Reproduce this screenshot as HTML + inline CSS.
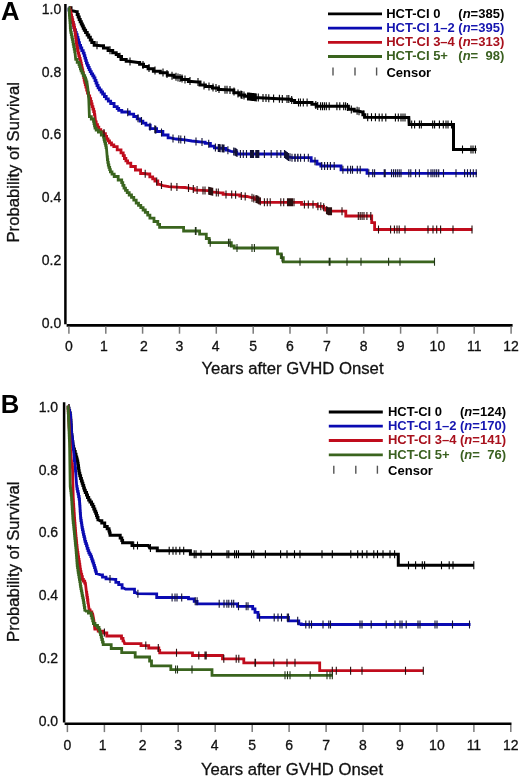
<!DOCTYPE html>
<html><head><meta charset="utf-8"><style>
html,body{margin:0;padding:0;background:#fff;}
body{width:520px;height:777px;overflow:hidden;}
svg{display:block;filter:blur(0.4px);}
text{font-family:"Liberation Sans",sans-serif;}
.tl{font-size:14px;fill:#111;stroke:#111;stroke-width:0.3px;}
.at{font-size:16.7px;fill:#111;stroke:#111;stroke-width:0.3px;}
.lg{font-size:13px;font-weight:bold;}
.pl{font-size:25.7px;font-weight:bold;fill:#000;}
</style></head><body>
<svg width="520" height="777" viewBox="0 0 520 777">
<rect width="520" height="777" fill="#fff"/>
<text x="0.9" y="19.6" class="pl">A</text>
<text x="0.8" y="412.8" class="pl">B</text>
<line x1="65.4" y1="4" x2="65.4" y2="324.3" stroke="#000" stroke-width="2.5"/>
<line x1="66.6" y1="325.4" x2="512.6" y2="325.4" stroke="#000" stroke-width="2.6"/>
<line x1="68.9" y1="326.59999999999997" x2="68.9" y2="333.7" stroke="#7a7a7a" stroke-width="1.5"/>
<text x="68.9" y="351.2" text-anchor="middle" class="tl">0</text>
<line x1="105.8" y1="326.59999999999997" x2="105.8" y2="333.7" stroke="#7a7a7a" stroke-width="1.5"/>
<text x="104.0" y="351.2" text-anchor="middle" class="tl">1</text>
<line x1="142.6" y1="326.59999999999997" x2="142.6" y2="333.7" stroke="#7a7a7a" stroke-width="1.5"/>
<text x="144.0" y="351.2" text-anchor="middle" class="tl">2</text>
<line x1="179.5" y1="326.59999999999997" x2="179.5" y2="333.7" stroke="#7a7a7a" stroke-width="1.5"/>
<text x="179.5" y="351.2" text-anchor="middle" class="tl">3</text>
<line x1="216.3" y1="326.59999999999997" x2="216.3" y2="333.7" stroke="#7a7a7a" stroke-width="1.5"/>
<text x="215.7" y="351.2" text-anchor="middle" class="tl">4</text>
<line x1="253.2" y1="326.59999999999997" x2="253.2" y2="333.7" stroke="#7a7a7a" stroke-width="1.5"/>
<text x="253.2" y="351.2" text-anchor="middle" class="tl">5</text>
<line x1="290.0" y1="326.59999999999997" x2="290.0" y2="333.7" stroke="#7a7a7a" stroke-width="1.5"/>
<text x="290.0" y="351.2" text-anchor="middle" class="tl">6</text>
<line x1="326.9" y1="326.59999999999997" x2="326.9" y2="333.7" stroke="#7a7a7a" stroke-width="1.5"/>
<text x="326.9" y="351.2" text-anchor="middle" class="tl">7</text>
<line x1="363.7" y1="326.59999999999997" x2="363.7" y2="333.7" stroke="#7a7a7a" stroke-width="1.5"/>
<text x="363.7" y="351.2" text-anchor="middle" class="tl">8</text>
<line x1="400.6" y1="326.59999999999997" x2="400.6" y2="333.7" stroke="#7a7a7a" stroke-width="1.5"/>
<text x="400.6" y="351.2" text-anchor="middle" class="tl">9</text>
<line x1="437.4" y1="326.59999999999997" x2="437.4" y2="333.7" stroke="#7a7a7a" stroke-width="1.5"/>
<text x="437.4" y="351.2" text-anchor="middle" class="tl">10</text>
<line x1="474.2" y1="326.59999999999997" x2="474.2" y2="333.7" stroke="#7a7a7a" stroke-width="1.5"/>
<text x="474.2" y="351.2" text-anchor="middle" class="tl">11</text>
<line x1="511.1" y1="326.59999999999997" x2="511.1" y2="333.7" stroke="#7a7a7a" stroke-width="1.5"/>
<text x="511.1" y="351.2" text-anchor="middle" class="tl">12</text>
<text x="61.2" y="13.9" text-anchor="end" class="tl">1.0</text>
<text x="61.2" y="76.7" text-anchor="end" class="tl">0.8</text>
<text x="61.2" y="139.4" text-anchor="end" class="tl">0.6</text>
<text x="61.2" y="202.2" text-anchor="end" class="tl">0.4</text>
<text x="61.2" y="264.9" text-anchor="end" class="tl">0.2</text>
<text x="61.2" y="327.7" text-anchor="end" class="tl">0.0</text>
<path d="M68.7,7.7 L71.0,7.7 L71.0,11.0 L73.3,11.0 L76.7,11.7 L77.2,11.7 L77.2,14.4 L78.2,14.4 L78.2,17.1 L78.7,17.1 L79.2,17.1 L79.2,19.4 L80.2,19.4 L80.2,21.7 L81.3,21.7 L81.3,24.0 L81.8,24.0 L82.3,24.0 L82.3,26.1 L83.3,26.1 L83.3,28.2 L84.3,28.2 L84.3,30.3 L84.8,30.3 L85.6,30.3 L85.6,32.6 L87.2,32.6 L87.2,34.9 L88.7,34.9 L88.7,37.2 L89.5,37.2 L90.3,37.2 L90.3,39.9 L91.8,39.9 L91.8,42.6 L92.6,42.6 L94.2,42.6 L94.2,45.2 L95.7,45.2 L101.2,45.8 L103.5,45.8 L103.5,48.0 L105.8,48.0 L108.1,48.0 L108.1,50.4 L110.4,50.4 L112.7,50.4 L112.7,52.7 L115.0,52.7 L116.2,52.7 L116.2,54.6 L118.4,54.6 L118.4,56.5 L119.6,56.5 L121.5,56.5 L121.5,59.6 L123.5,59.6 L126.2,59.6 L126.2,61.2 L128.8,61.2 L138.0,62.4 L139.6,62.4 L139.6,64.2 L141.2,64.2 L143.5,64.2 L143.5,66.5 L145.8,66.5 L148.1,66.5 L148.1,68.8 L150.4,68.8 L153.4,68.8 L153.4,71.2 L156.5,71.2 L160.3,71.2 L160.3,72.7 L164.2,72.7 L167.3,72.7 L167.3,75.3 L170.4,75.3 L174.1,75.3 L174.1,77.3 L177.7,77.3 L181.6,77.3 L181.6,79.6 L185.4,79.6 L188.4,79.6 L188.4,81.6 L191.5,81.6 L197.7,81.9 L200.0,81.9 L200.0,85.0 L202.3,85.0 L205.4,85.0 L205.4,86.5 L208.5,86.5 L212.3,86.5 L212.3,88.0 L216.2,88.0 L218.5,88.0 L218.5,89.6 L220.8,89.6 L231.5,90.0 L233.8,90.0 L233.8,92.7 L236.2,92.7 L239.2,92.7 L239.2,95.0 L242.3,95.0 L244.7,95.0 L244.7,96.3 L247.0,96.3 L253.1,96.3 L253.1,97.7 L259.2,97.7 L278.5,98.7 L290.0,99.2 L291.4,99.2 L291.4,100.5 L292.7,100.5 L294.6,100.5 L294.6,102.4 L296.5,102.4 L310.0,102.4 L311.9,102.4 L311.9,104.3 L313.8,104.3 L316.2,104.3 L316.2,106.3 L318.7,106.3 L346.5,106.3 L348.4,106.3 L348.4,109.2 L350.4,109.2 L354.2,109.2 L354.2,111.0 L358.0,111.0 L361.9,112.0 L362.9,112.0 L362.9,114.7 L364.8,114.7 L364.8,117.3 L365.8,117.3 L408.8,117.5 L409.2,124.4 L453.5,124.4 L453.5,149.6 L476.5,149.6" fill="none" stroke="#000000" stroke-width="3.0" stroke-linejoin="miter"/>
<path d="M68.7,7.7 L69.0,7.7 L69.0,10.2 L69.7,10.2 L69.7,12.6 L70.3,12.6 L70.3,15.1 L71.0,15.1 L71.0,17.5 L71.7,17.5 L71.7,20.0 L72.0,20.0 L72.4,20.0 L72.4,22.5 L73.1,22.5 L73.1,25.0 L73.9,25.0 L73.9,27.5 L74.6,27.5 L74.6,30.0 L75.0,30.0 L75.5,30.0 L75.5,32.3 L76.3,32.3 L76.3,34.6 L76.8,34.6 L77.2,34.6 L77.2,37.3 L78.0,37.3 L78.0,40.0 L78.7,40.0 L78.7,42.7 L79.5,42.7 L79.5,45.4 L79.9,45.4 L80.6,45.4 L80.6,48.0 L81.8,48.0 L81.8,50.6 L83.2,50.6 L83.2,53.2 L83.8,53.2 L84.2,53.2 L84.2,55.7 L84.9,55.7 L84.9,58.2 L85.7,58.2 L85.7,60.7 L86.4,60.7 L86.4,63.2 L86.8,63.2 L87.3,63.2 L87.3,65.3 L88.3,65.3 L88.3,67.5 L89.2,67.5 L89.2,69.6 L90.2,69.6 L90.2,71.7 L90.7,71.7 L91.3,71.7 L91.3,73.8 L92.7,73.8 L92.7,75.8 L93.9,75.8 L93.9,77.9 L94.6,77.9 L95.0,77.9 L95.0,80.5 L96.0,80.5 L96.0,83.0 L96.4,83.0 L97.0,83.0 L97.0,85.5 L98.1,85.5 L98.1,87.9 L98.7,87.9 L99.5,87.9 L99.5,89.9 L101.1,89.9 L101.1,92.0 L102.6,92.0 L102.6,94.0 L103.4,94.0 L104.4,94.0 L104.4,96.5 L106.2,96.5 L106.2,98.9 L107.2,98.9 L108.3,98.9 L108.3,101.2 L110.7,101.2 L110.7,103.5 L111.8,103.5 L114.1,103.5 L114.1,106.6 L116.4,106.6 L117.2,106.6 L117.2,108.5 L118.7,108.5 L118.7,110.4 L119.5,110.4 L121.8,110.4 L121.8,112.0 L124.0,112.0 L127.3,112.0 L129.4,112.0 L129.4,114.2 L133.7,114.2 L133.7,116.5 L135.8,116.5 L137.2,116.5 L137.2,118.8 L140.1,118.8 L140.1,121.1 L141.5,121.1 L142.9,121.1 L142.9,123.2 L145.9,123.2 L145.9,125.2 L147.3,125.2 L150.2,125.2 L150.2,128.6 L153.1,128.6 L156.6,128.6 L156.6,131.5 L160.0,131.5 L162.9,131.5 L162.9,135.0 L165.8,135.0 L168.1,135.0 L168.1,137.9 L170.4,137.9 L176.1,139.0 L185.0,139.8 L191.9,141.0 L202.3,142.1 L205.2,142.1 L205.2,143.3 L208.1,143.3 L210.4,143.3 L210.4,146.1 L212.7,146.1 L214.4,146.1 L214.4,147.9 L216.1,147.9 L224.2,148.5 L225.9,148.5 L225.9,150.2 L227.7,150.2 L231.1,151.3 L235.7,151.9 L236.8,151.9 L236.8,154.0 L238.0,154.0 L284.6,154.0 L286.6,154.0 L286.6,157.0 L288.5,157.0 L292.0,157.7 L311.2,157.7 L311.2,161.2 L317.0,161.2 L317.0,164.0 L320.8,164.0 L320.8,166.0 L341.0,166.0 L341.0,169.8 L367.0,169.8 L367.0,173.3 L477.0,173.3" fill="none" stroke="#0a0ab2" stroke-width="2.8" stroke-linejoin="miter"/>
<path d="M69.5,7.7 L69.8,7.7 L69.8,10.2 L70.4,10.2 L70.4,12.6 L71.0,12.6 L71.0,15.1 L71.6,15.1 L71.6,17.5 L72.2,17.5 L72.2,20.0 L72.5,20.0 L72.8,20.0 L72.8,22.5 L73.4,22.5 L73.4,25.0 L74.0,25.0 L74.0,27.5 L74.6,27.5 L74.6,30.0 L74.9,30.0 L75.1,30.0 L75.1,32.6 L75.4,32.6 L75.4,35.1 L75.7,35.1 L75.7,37.7 L76.0,37.7 L76.0,40.3 L76.3,40.3 L76.3,42.8 L76.6,42.8 L76.6,45.4 L76.8,45.4 L77.1,45.4 L77.1,48.0 L77.6,48.0 L77.6,50.6 L78.1,50.6 L78.1,53.2 L78.4,53.2 L78.8,53.2 L78.8,55.8 L79.5,55.8 L79.5,58.4 L80.2,58.4 L80.2,61.0 L80.6,61.0 L80.8,61.0 L80.8,63.2 L81.3,63.2 L81.3,65.5 L81.8,65.5 L81.8,67.8 L82.3,67.8 L82.3,70.0 L82.6,70.0 L82.8,70.0 L82.8,72.5 L83.3,72.5 L83.3,75.0 L83.7,75.0 L83.7,77.5 L84.2,77.5 L84.2,80.0 L84.4,80.0 L84.7,80.0 L84.7,82.3 L85.3,82.3 L85.3,84.7 L85.9,84.7 L85.9,87.0 L86.2,87.0 L86.7,87.0 L86.7,90.0 L87.5,90.0 L87.5,93.0 L88.0,93.0 L88.6,93.0 L88.6,95.8 L89.7,95.8 L89.7,98.7 L90.3,98.7 L90.7,98.7 L90.7,101.3 L91.4,101.3 L91.4,104.0 L92.1,104.0 L92.1,106.6 L92.5,106.6 L92.9,106.6 L92.9,109.2 L93.7,109.2 L93.7,111.7 L94.4,111.7 L94.4,114.3 L94.8,114.3 L95.6,122.0 L96.2,122.0 L96.2,124.6 L97.5,124.6 L97.5,127.1 L98.8,127.1 L98.8,129.7 L99.4,129.7 L100.8,129.7 L100.8,131.6 L103.5,131.6 L103.5,133.6 L104.8,133.6 L105.4,133.6 L105.4,136.3 L106.6,136.3 L106.6,139.0 L107.2,139.0 L108.0,139.0 L108.0,140.9 L109.5,140.9 L109.5,142.9 L110.3,142.9 L111.5,142.9 L111.5,144.8 L113.8,144.8 L113.8,146.7 L114.9,146.7 L117.2,146.7 L117.2,149.8 L119.5,149.8 L121.0,149.8 L121.0,152.9 L122.6,152.9 L123.2,152.9 L123.2,155.7 L124.4,155.7 L124.4,158.5 L125.0,158.5 L125.9,158.5 L125.9,160.8 L127.6,160.8 L127.6,163.1 L128.5,163.1 L130.8,163.1 L130.8,166.5 L133.1,166.5 L135.4,166.5 L135.4,170.0 L137.7,170.0 L140.6,170.0 L140.6,173.5 L143.5,173.5 L148.1,174.0 L149.8,174.0 L149.8,176.9 L151.5,176.9 L152.7,176.9 L152.7,178.9 L154.9,178.9 L154.9,181.0 L156.1,181.0 L157.8,181.0 L157.8,184.4 L159.6,184.4 L163.1,185.6 L168.8,186.7 L180.0,187.3 L185.0,187.5 L191.9,188.7 L194.2,188.7 L194.2,190.1 L196.5,190.1 L208.1,190.6 L210.9,190.6 L210.9,192.1 L213.8,192.1 L220.8,192.9 L223.1,192.9 L223.1,194.4 L225.4,194.4 L238.1,194.8 L239.8,194.8 L239.8,196.1 L241.5,196.1 L246.9,196.5 L251.5,197.7 L254.4,197.7 L254.4,199.4 L257.3,199.4 L259.6,199.4 L259.6,202.3 L261.9,202.3 L301.5,202.3 L301.5,204.4 L317.0,204.4 L317.0,206.3 L322.7,206.3 L323.6,206.3 L323.6,208.2 L325.6,208.2 L325.6,210.2 L326.5,210.2 L328.5,211.2 L345.8,211.2 L345.8,216.0 L371.7,216.0 L371.7,222.7 L374.6,222.7 L374.6,229.5 L472.3,229.5" fill="none" stroke="#c00c1c" stroke-width="2.8" stroke-linejoin="miter"/>
<path d="M69.0,7.5 L69.1,7.5 L69.1,10.0 L69.3,10.0 L69.3,12.5 L69.4,12.5 L69.4,15.0 L69.6,15.0 L69.6,17.5 L69.8,17.5 L69.8,20.0 L70.0,20.0 L70.0,22.5 L70.2,22.5 L70.2,25.0 L70.3,25.0 L70.3,27.5 L70.5,27.5 L70.5,30.0 L70.6,30.0 L70.8,30.0 L70.8,32.3 L71.3,32.3 L71.3,34.6 L71.8,34.6 L71.8,37.0 L72.3,37.0 L72.3,39.3 L72.8,39.3 L72.8,41.6 L73.0,41.6 L73.2,41.6 L73.2,44.1 L73.7,44.1 L73.7,46.6 L74.2,46.6 L74.2,49.1 L74.7,49.1 L74.7,51.6 L74.9,51.6 L75.7,59.3 L77.2,59.3 L77.2,62.4 L78.7,62.4 L79.0,62.4 L79.0,64.5 L79.7,64.5 L79.7,66.7 L80.4,66.7 L80.4,68.8 L81.1,68.8 L81.1,70.9 L81.4,70.9 L82.1,70.9 L82.1,73.2 L83.3,73.2 L83.3,75.6 L84.7,75.6 L84.7,77.9 L85.3,77.9 L85.6,77.9 L85.6,79.9 L86.2,79.9 L86.2,82.0 L86.9,82.0 L86.9,84.0 L87.2,84.0 L88.0,90.0 L88.8,100.0 L89.4,116.6 L91.3,116.6 L91.3,119.0 L93.3,119.0 L93.5,119.0 L93.5,121.3 L94.0,121.3 L94.0,123.6 L94.5,123.6 L94.5,125.9 L95.0,125.9 L95.0,128.2 L95.2,128.2 L96.2,128.2 L96.2,130.1 L98.4,130.1 L98.4,132.0 L99.4,132.0 L101.3,132.0 L101.3,135.2 L103.3,135.2 L103.5,135.2 L103.5,137.2 L104.0,137.2 L104.0,139.3 L104.5,139.3 L104.5,141.3 L104.8,141.3 L105.1,141.3 L105.1,143.4 L105.6,143.4 L105.6,145.4 L106.1,145.4 L106.1,147.5 L106.4,147.5 L107.2,157.0 L107.4,157.0 L107.4,159.7 L107.8,159.7 L107.8,162.3 L108.3,162.3 L108.3,165.0 L108.5,165.0 L108.9,165.0 L108.9,167.3 L109.7,167.3 L109.7,169.6 L110.4,169.6 L110.4,171.9 L110.8,171.9 L112.0,171.9 L112.0,174.2 L114.2,174.2 L114.2,176.5 L115.4,176.5 L118.2,176.5 L118.2,180.0 L121.1,180.0 L121.7,180.0 L121.7,182.7 L122.8,182.7 L122.8,185.4 L124.0,185.4 L124.0,188.1 L124.6,188.1 L125.5,188.1 L125.5,190.4 L127.2,190.4 L127.2,192.7 L128.1,192.7 L129.2,192.7 L129.2,195.0 L131.5,195.0 L131.5,197.3 L132.7,197.3 L133.8,197.3 L133.8,200.2 L136.2,200.2 L136.2,203.1 L137.3,203.1 L138.5,203.1 L138.5,205.4 L140.8,205.4 L140.8,207.7 L141.9,207.7 L143.1,207.7 L143.1,210.0 L145.3,210.0 L145.3,212.3 L146.5,212.3 L147.7,212.3 L147.7,215.2 L149.9,215.2 L149.9,218.1 L151.1,218.1 L154.0,218.1 L154.0,221.5 L156.9,221.5 L157.8,221.5 L157.8,224.4 L159.6,224.4 L159.6,227.3 L160.5,227.3 L183.6,227.3 L183.6,231.0 L199.6,231.0 L199.6,234.2 L206.3,234.2 L206.3,238.5 L209.2,238.5 L209.2,242.7 L231.3,242.7 L231.3,246.0 L234.2,246.0 L234.2,248.0 L277.5,248.0 L277.5,253.8 L281.3,253.8 L281.3,257.7 L283.3,257.7 L283.3,261.8 L434.5,261.8" fill="none" stroke="#3a641e" stroke-width="2.8" stroke-linejoin="miter"/>
<path d="M97.0,41.3v8M110.0,46.2v8M120.0,52.8v8M130.0,57.4v8M143.0,61.1v8M149.0,64.1v8M155.0,66.6v8M163.0,68.5v8M167.0,69.9v8M172.0,71.7v8M176.0,72.8v8M178.0,73.4v8M180.0,74.0v8M182.0,74.6v8M185.0,75.5v8M190.0,77.1v8M198.0,78.1v8M204.0,81.4v8M209.0,82.6v8M213.0,83.4v8M216.0,84.0v8M219.0,85.0v8M225.0,85.8v8M227.0,85.8v8M230.0,85.9v8M234.0,87.4v8M238.0,89.4v8M241.0,90.5v8M242.0,90.9v8M244.0,91.5v8M247.5,92.4v8M248.4,92.5v8M249.3,92.6v8M250.2,92.7v8M251.1,92.8v8M252.0,92.9v8M252.9,93.0v8M253.8,93.1v8M254.7,93.2v8M255.6,93.3v8M256.3,93.4v8M258.3,93.6v8M263.0,93.9v8M266.0,94.1v8M268.8,94.2v8M273.6,94.4v8M279.4,94.7v8M282.3,94.9v8M287.0,95.1v8M288.8,95.1v8M291.7,96.0v8M298.5,98.4v8M300.4,98.4v8M303.3,98.4v8M307.1,98.4v8M315.8,101.1v8M317.7,101.9v8M320.6,102.3v8M322.5,102.3v8M324.4,102.3v8M326.3,102.3v8M329.2,102.3v8M336.9,102.3v8M339.8,102.3v8M343.7,102.3v8M345.6,102.3v8M347.5,103.0v8M351.3,105.4v8M357.1,106.8v8M359.0,107.3v8M363.8,110.6v8M367.7,113.3v8M371.5,113.3v8M375.4,113.3v8M379.2,113.4v8M382.1,113.4v8M385.8,113.4v8M395.4,113.4v8M398.3,113.5v8M401.0,113.5v8M403.0,113.5v8M405.0,113.5v8M411.7,120.4v8M414.6,120.4v8M419.4,120.4v8M421.3,120.4v8M432.7,120.4v8M434.6,120.4v8M439.4,120.4v8M443.3,120.4v8M446.0,120.4v8M448.0,120.4v8M451.5,120.4v8M462.5,145.6v8M471.0,145.6v8M473.0,145.6v8M475.4,145.6v8" stroke="#000000" stroke-width="1.1" fill="none"/>
<path d="M127.7,108.2v8M138.0,114.3v8M141.5,117.1v8M150.0,122.8v8M154.8,125.3v8M155.8,125.7v8M161.5,128.4v8M173.0,134.4v8M178.8,135.2v8M180.8,135.4v8M184.6,135.8v8M196.0,137.4v8M202.0,138.1v8M208.7,139.7v8M215.4,143.5v8M218.3,144.1v8M219.2,144.1v8M220.2,144.2v8M222.1,144.3v8M223.0,144.4v8M224.0,144.5v8M227.9,146.3v8M233.7,147.6v8M235.0,147.8v8M236.0,148.2v8M237.0,149.1v8M240.4,150.0v8M243.3,150.0v8M246.5,150.0v8M250.5,150.0v8M251.5,150.0v8M252.5,150.0v8M253.5,150.0v8M255.8,150.0v8M256.8,150.0v8M257.8,150.0v8M258.8,150.0v8M264.4,150.0v8M271.2,150.0v8M277.0,150.0v8M280.8,150.0v8M284.5,150.0v8M285.5,150.7v8M286.5,151.5v8M287.5,152.2v8M288.5,153.0v8M290.0,153.3v8M292.0,153.7v8M294.8,153.7v8M295.2,153.7v8M297.7,153.7v8M298.0,153.7v8M300.6,153.7v8M304.4,153.7v8M308.3,153.7v8M315.0,157.2v8M321.7,162.0v8M324.6,162.0v8M327.5,162.0v8M330.4,162.0v8M334.2,162.0v8M342.9,165.8v8M347.7,165.8v8M350.6,165.8v8M352.5,165.8v8M357.3,165.8v8M360.2,165.8v8M368.8,169.3v8M372.7,169.3v8M374.6,169.3v8M384.2,169.3v8M385.2,169.3v8M391.5,169.3v8M393.5,169.3v8M395.4,169.3v8M397.3,169.3v8M399.2,169.3v8M401.0,169.3v8M408.8,169.3v8M410.8,169.3v8M415.6,169.3v8M419.4,169.3v8M428.0,169.3v8M431.0,169.3v8M432.9,169.3v8M434.8,169.3v8M436.7,169.3v8M438.7,169.3v8M443.5,169.3v8M456.0,169.3v8M464.6,169.3v8M467.5,169.3v8M470.4,169.3v8M473.3,169.3v8M476.2,169.3v8" stroke="#121236" stroke-width="1.1" fill="none"/>
<path d="M104.0,129.0v8M145.2,169.7v8M156.7,177.6v8M161.5,181.1v8M171.2,182.8v8M176.9,183.1v8M188.5,184.1v8M193.3,185.1v8M197.1,186.1v8M203.0,186.4v8M205.0,186.5v8M208.7,186.8v8M209.7,187.0v8M210.7,187.3v8M211.7,187.5v8M212.7,187.8v8M216.3,188.4v8M218.3,188.6v8M226.0,190.4v8M231.7,190.6v8M235.6,190.7v8M241.3,192.0v8M245.2,192.4v8M252.0,193.8v8M253.8,194.4v8M256.0,195.0v8M257.0,195.3v8M258.0,195.8v8M259.0,196.5v8M260.3,197.3v8M264.4,198.3v8M267.3,198.3v8M270.2,198.3v8M280.8,198.3v8M283.7,198.3v8M287.5,198.3v8M288.5,198.3v8M289.5,198.3v8M290.5,198.3v8M291.5,198.3v8M292.5,198.3v8M294.0,198.3v8M304.4,200.4v8M308.3,200.4v8M313.0,200.4v8M317.9,202.3v8M320.8,202.3v8M323.7,203.3v8M326.5,206.2v8M327.5,206.7v8M328.5,207.2v8M329.5,207.2v8M330.5,207.2v8M331.5,207.2v8M342.0,207.2v8M358.3,212.0v8M360.2,212.0v8M362.1,212.0v8M364.0,212.0v8M366.9,212.0v8M370.8,212.0v8M378.5,225.5v8M390.6,225.5v8M394.4,225.5v8M397.0,225.5v8M399.2,225.5v8M405.0,225.5v8M428.0,225.5v8M433.0,225.5v8M436.7,225.5v8M440.6,225.5v8M453.0,225.5v8M472.0,225.5v8" stroke="#2a1010" stroke-width="1.1" fill="none"/>
<path d="M195.4,227.0v8M196.0,227.0v8M210.2,238.7v8M228.5,238.7v8M230.0,238.7v8M237.0,244.0v8M252.0,244.0v8M254.4,244.0v8M282.0,253.7v8M300.0,257.8v8M329.2,257.8v8M330.0,257.8v8M347.0,257.8v8M361.0,257.8v8M388.6,257.8v8M400.0,257.8v8M434.5,257.8v8" stroke="#223518" stroke-width="1.1" fill="none"/>
<line x1="328" y1="13.8" x2="382" y2="13.8" stroke="#000000" stroke-width="2.8"/>
<text x="386.2" y="17.7" class="lg" fill="#000000">HCT-CI 0</text>
<text x="458.3" y="17.7" class="lg" fill="#000000">(<tspan font-style="italic">n</tspan>=</text>
<text x="504.3" y="17.7" class="lg" fill="#000000" text-anchor="end">385)</text>
<line x1="328" y1="28.1" x2="382" y2="28.1" stroke="#0a0ab2" stroke-width="2.8"/>
<text x="386.2" y="31.9" class="lg" fill="#1515b0">HCT-CI 1–2</text>
<text x="458.3" y="31.9" class="lg" fill="#1515b0">(<tspan font-style="italic">n</tspan>=</text>
<text x="504.3" y="31.9" class="lg" fill="#1515b0" text-anchor="end">395)</text>
<line x1="328" y1="42.3" x2="382" y2="42.3" stroke="#c00c1c" stroke-width="2.8"/>
<text x="386.2" y="46.2" class="lg" fill="#a8101c">HCT-CI 3–4</text>
<text x="458.3" y="46.2" class="lg" fill="#a8101c">(<tspan font-style="italic">n</tspan>=</text>
<text x="504.3" y="46.2" class="lg" fill="#a8101c" text-anchor="end">313)</text>
<line x1="328" y1="56.5" x2="382" y2="56.5" stroke="#3a641e" stroke-width="2.8"/>
<text x="386.2" y="60.4" class="lg" fill="#3a6020">HCT-CI 5+</text>
<text x="458.3" y="60.4" class="lg" fill="#3a6020">(<tspan font-style="italic">n</tspan>=</text>
<text x="504.3" y="60.4" class="lg" fill="#3a6020" text-anchor="end">98)</text>
<line x1="333" y1="67.5" x2="333" y2="75.5" stroke="#555" stroke-width="1.4"/>
<line x1="355" y1="67.5" x2="355" y2="75.5" stroke="#555" stroke-width="1.4"/>
<line x1="376.6" y1="67.5" x2="376.6" y2="75.5" stroke="#555" stroke-width="1.4"/>
<text x="386.4" y="76.5" class="lg" fill="#000">Censor</text>
<text x="292.5" y="374.3" text-anchor="middle" class="at">Years after GVHD Onset</text>
<text transform="translate(18.7,162.3) rotate(-90)" text-anchor="middle" class="at">Probability of Survival</text>
<line x1="64.1" y1="402.2" x2="64.1" y2="722.5" stroke="#000" stroke-width="2.5"/>
<line x1="64.6" y1="723.8" x2="511.5" y2="723.8" stroke="#000" stroke-width="2.6"/>
<line x1="67.4" y1="725.0" x2="67.4" y2="732.0999999999999" stroke="#7a7a7a" stroke-width="1.5"/>
<text x="67.4" y="749.8" text-anchor="middle" class="tl">0</text>
<line x1="104.4" y1="725.0" x2="104.4" y2="732.0999999999999" stroke="#7a7a7a" stroke-width="1.5"/>
<text x="102.6" y="749.8" text-anchor="middle" class="tl">1</text>
<line x1="141.3" y1="725.0" x2="141.3" y2="732.0999999999999" stroke="#7a7a7a" stroke-width="1.5"/>
<text x="142.7" y="749.8" text-anchor="middle" class="tl">2</text>
<line x1="178.2" y1="725.0" x2="178.2" y2="732.0999999999999" stroke="#7a7a7a" stroke-width="1.5"/>
<text x="178.2" y="749.8" text-anchor="middle" class="tl">3</text>
<line x1="215.2" y1="725.0" x2="215.2" y2="732.0999999999999" stroke="#7a7a7a" stroke-width="1.5"/>
<text x="214.6" y="749.8" text-anchor="middle" class="tl">4</text>
<line x1="252.2" y1="725.0" x2="252.2" y2="732.0999999999999" stroke="#7a7a7a" stroke-width="1.5"/>
<text x="252.2" y="749.8" text-anchor="middle" class="tl">5</text>
<line x1="289.1" y1="725.0" x2="289.1" y2="732.0999999999999" stroke="#7a7a7a" stroke-width="1.5"/>
<text x="289.1" y="749.8" text-anchor="middle" class="tl">6</text>
<line x1="326.1" y1="725.0" x2="326.1" y2="732.0999999999999" stroke="#7a7a7a" stroke-width="1.5"/>
<text x="326.1" y="749.8" text-anchor="middle" class="tl">7</text>
<line x1="363.0" y1="725.0" x2="363.0" y2="732.0999999999999" stroke="#7a7a7a" stroke-width="1.5"/>
<text x="363.0" y="749.8" text-anchor="middle" class="tl">8</text>
<line x1="400.0" y1="725.0" x2="400.0" y2="732.0999999999999" stroke="#7a7a7a" stroke-width="1.5"/>
<text x="400.0" y="749.8" text-anchor="middle" class="tl">9</text>
<line x1="436.9" y1="725.0" x2="436.9" y2="732.0999999999999" stroke="#7a7a7a" stroke-width="1.5"/>
<text x="436.9" y="749.8" text-anchor="middle" class="tl">10</text>
<line x1="473.9" y1="725.0" x2="473.9" y2="732.0999999999999" stroke="#7a7a7a" stroke-width="1.5"/>
<text x="473.9" y="749.8" text-anchor="middle" class="tl">11</text>
<line x1="510.8" y1="725.0" x2="510.8" y2="732.0999999999999" stroke="#7a7a7a" stroke-width="1.5"/>
<text x="510.8" y="749.8" text-anchor="middle" class="tl">12</text>
<text x="58.1" y="411.8" text-anchor="end" class="tl">1.0</text>
<text x="58.1" y="474.6" text-anchor="end" class="tl">0.8</text>
<text x="58.1" y="537.3" text-anchor="end" class="tl">0.6</text>
<text x="58.1" y="600.1" text-anchor="end" class="tl">0.4</text>
<text x="58.1" y="662.8" text-anchor="end" class="tl">0.2</text>
<text x="58.1" y="725.6" text-anchor="end" class="tl">0.0</text>
<path d="M68.0,405.8 L68.3,405.8 L68.3,408.2 L68.9,408.2 L68.9,410.6 L69.6,410.6 L69.6,413.0 L70.2,413.0 L70.2,415.4 L70.5,415.4 L70.6,415.4 L70.6,417.8 L70.7,417.8 L70.7,420.2 L70.9,420.2 L70.9,422.6 L71.0,422.6 L71.0,425.0 L71.2,425.0 L71.2,427.5 L71.3,427.5 L71.3,429.9 L71.5,429.9 L71.5,432.3 L71.6,432.3 L71.6,434.7 L71.7,434.7 L71.9,434.7 L71.9,437.0 L72.2,437.0 L72.2,439.3 L72.5,439.3 L72.5,441.7 L72.8,441.7 L72.8,444.0 L73.0,444.0 L73.0,446.3 L73.2,446.3 L73.6,446.3 L73.6,449.0 L74.4,449.0 L74.4,451.6 L75.2,451.6 L75.2,454.3 L76.0,454.3 L76.0,457.0 L76.4,457.0 L76.7,457.0 L76.7,459.1 L77.2,459.1 L77.2,461.1 L77.7,461.1 L77.7,463.2 L77.9,463.2 L78.1,463.2 L78.1,465.7 L78.5,465.7 L78.5,468.2 L78.8,468.2 L78.8,470.7 L79.2,470.7 L79.2,473.2 L79.4,473.2 L79.8,473.2 L79.8,475.8 L80.6,475.8 L80.6,478.4 L81.4,478.4 L81.4,481.0 L81.8,481.0 L82.2,481.0 L82.2,483.3 L82.9,483.3 L82.9,485.6 L83.7,485.6 L83.7,487.9 L84.4,487.9 L84.4,490.2 L84.8,490.2 L85.3,490.2 L85.3,492.6 L86.5,492.6 L86.5,495.1 L87.5,495.1 L87.5,497.6 L88.7,497.6 L88.7,500.0 L89.2,500.0 L90.0,500.0 L90.0,502.1 L91.5,502.1 L91.5,504.3 L92.3,504.3 L92.8,504.3 L92.8,506.6 L93.8,506.6 L93.8,508.9 L94.8,508.9 L94.8,511.2 L95.3,511.2 L95.7,511.2 L95.7,513.3 L96.5,513.3 L96.5,515.5 L97.2,515.5 L97.2,517.6 L98.0,517.6 L98.0,519.7 L98.4,519.7 L100.0,520.8 L101.8,520.8 L101.8,523.1 L103.5,523.1 L104.7,523.1 L104.7,526.5 L105.8,526.5 L107.2,526.5 L107.2,528.8 L108.7,528.8 L109.0,528.8 L109.0,530.9 L109.6,530.9 L109.6,533.1 L110.1,533.1 L110.1,535.2 L110.4,535.2 L119.0,535.2 L120.2,535.2 L120.2,538.1 L121.3,538.1 L121.8,538.1 L121.8,540.4 L122.6,540.4 L122.6,542.7 L123.1,542.7 L131.1,542.7 L132.0,542.7 L132.0,545.6 L132.9,545.6 L148.4,545.6 L149.6,547.9 L156.5,547.9 L157.3,547.9 L157.3,550.8 L158.2,550.8 L190.4,550.8 L190.4,554.2 L398.3,554.2 L398.3,565.2 L473.8,565.2" fill="none" stroke="#000000" stroke-width="3.0" stroke-linejoin="miter"/>
<path d="M68.0,405.8 L68.3,405.8 L68.3,408.2 L68.9,408.2 L68.9,410.6 L69.6,410.6 L69.6,413.0 L70.2,413.0 L70.2,415.4 L70.5,415.4 L70.6,415.4 L70.6,417.8 L70.7,417.8 L70.7,420.2 L70.9,420.2 L70.9,422.6 L71.0,422.6 L71.0,425.0 L71.2,425.0 L71.2,427.5 L71.3,427.5 L71.3,429.9 L71.5,429.9 L71.5,432.3 L71.6,432.3 L71.6,434.7 L71.7,434.7 L71.9,434.7 L71.9,437.0 L72.2,437.0 L72.2,439.3 L72.5,439.3 L72.5,441.7 L72.8,441.7 L72.8,444.0 L73.0,444.0 L73.0,446.3 L73.2,446.3 L74.0,455.4 L74.1,455.4 L74.1,458.0 L74.4,458.0 L74.4,460.6 L74.7,460.6 L74.7,463.1 L74.9,463.1 L74.9,465.7 L75.2,465.7 L75.2,468.3 L75.5,468.3 L75.5,470.9 L75.6,470.9 L76.7,486.3 L77.0,486.3 L77.0,488.8 L77.5,488.8 L77.5,491.4 L78.1,491.4 L78.1,493.9 L78.6,493.9 L78.6,496.5 L79.1,496.5 L79.1,499.0 L79.4,499.0 L79.5,499.0 L79.5,501.4 L79.6,501.4 L79.6,503.8 L79.8,503.8 L79.8,506.2 L80.0,506.2 L80.0,508.6 L80.1,508.6 L80.1,511.0 L80.3,511.0 L80.3,513.4 L80.5,513.4 L80.5,515.8 L80.6,515.8 L80.6,518.2 L80.7,518.2 L80.9,518.2 L80.9,520.5 L81.3,520.5 L81.3,522.8 L81.7,522.8 L81.7,525.1 L82.0,525.1 L82.0,527.4 L82.4,527.4 L82.4,529.7 L82.6,529.7 L82.9,529.7 L82.9,532.0 L83.4,532.0 L83.4,534.3 L83.9,534.3 L83.9,536.7 L84.5,536.7 L84.5,539.0 L85.0,539.0 L85.0,541.3 L85.3,541.3 L85.7,541.3 L85.7,543.6 L86.5,543.6 L86.5,545.9 L87.2,545.9 L87.2,548.3 L88.0,548.3 L88.0,550.6 L88.8,550.6 L88.8,552.9 L89.2,552.9 L89.8,552.9 L89.8,554.6 L90.4,554.6 L90.8,554.6 L90.8,556.7 L91.6,556.7 L91.6,558.9 L92.3,558.9 L92.3,561.0 L93.1,561.0 L93.1,563.1 L93.5,563.1 L93.8,563.1 L93.8,565.4 L94.5,565.4 L94.5,567.7 L95.2,567.7 L95.2,570.0 L95.5,570.0 L95.8,570.0 L95.8,571.9 L96.4,571.9 L96.4,573.7 L96.7,573.7 L100.8,574.8 L102.5,574.8 L102.5,577.1 L104.2,577.1 L106.0,577.1 L106.0,578.8 L107.7,578.8 L114.6,579.4 L115.8,579.4 L115.8,582.3 L116.9,582.3 L118.7,582.3 L118.7,584.6 L120.4,584.6 L122.1,584.6 L122.1,588.1 L123.8,588.1 L125.6,589.2 L133.1,589.2 L134.5,589.2 L134.5,592.7 L135.9,592.7 L137.1,593.7 L156.7,593.8 L156.7,597.5 L188.5,597.5 L188.5,598.8 L194.2,598.8 L194.2,601.3 L197.1,601.3 L197.1,603.8 L237.5,603.8 L237.5,606.3 L252.7,606.3 L252.7,608.8 L255.0,608.8 L255.0,612.3 L258.0,612.3 L258.0,617.4 L288.5,617.4 L288.5,620.8 L298.8,620.8 L298.8,623.8 L301.2,623.8 L301.2,624.5 L470.5,624.5" fill="none" stroke="#0a0ab2" stroke-width="2.8" stroke-linejoin="miter"/>
<path d="M68.0,405.8 L68.1,405.8 L68.1,408.1 L68.2,408.1 L68.2,410.5 L68.3,410.5 L68.3,412.8 L68.5,412.8 L68.5,415.2 L68.6,415.2 L68.6,417.5 L68.7,417.5 L68.7,419.9 L68.9,419.9 L68.9,422.2 L69.0,422.2 L69.0,424.6 L69.1,424.6 L69.1,426.9 L69.3,426.9 L69.3,429.3 L69.4,429.3 L69.4,431.6 L69.5,431.6 L69.5,434.0 L69.7,434.0 L69.7,436.3 L69.8,436.3 L69.8,438.7 L69.9,438.7 L69.9,441.0 L70.0,441.0 L70.1,441.0 L70.1,443.5 L70.2,443.5 L70.2,446.0 L70.4,446.0 L70.4,448.5 L70.5,448.5 L70.5,451.0 L70.7,451.0 L70.7,453.5 L70.8,453.5 L70.8,456.0 L71.0,456.0 L71.0,458.5 L71.1,458.5 L71.1,461.0 L71.2,461.0 L71.5,461.0 L71.5,464.0 L72.2,464.0 L72.2,467.0 L72.5,467.0 L73.3,500.0 L73.4,500.0 L73.4,502.3 L73.5,502.3 L73.5,504.6 L73.7,504.6 L73.7,506.8 L73.8,506.8 L73.8,509.1 L74.0,509.1 L74.0,511.4 L74.1,511.4 L74.1,513.7 L74.3,513.7 L74.3,515.9 L74.4,515.9 L74.4,518.2 L74.5,518.2 L74.6,518.2 L74.6,520.8 L74.8,520.8 L74.8,523.3 L75.0,523.3 L75.0,525.9 L75.2,525.9 L75.2,528.5 L75.4,528.5 L75.4,531.0 L75.6,531.0 L75.6,533.6 L75.7,533.6 L75.8,533.6 L75.8,535.9 L76.0,535.9 L76.0,538.3 L76.3,538.3 L76.3,540.6 L76.5,540.6 L76.5,543.0 L76.7,543.0 L76.7,545.3 L77.0,545.3 L77.0,547.7 L77.2,547.7 L77.2,550.0 L77.3,550.0 L77.5,550.0 L77.5,552.3 L77.9,552.3 L77.9,554.6 L78.2,554.6 L78.2,557.0 L78.6,557.0 L78.6,559.3 L79.0,559.3 L79.0,561.6 L79.2,561.6 L79.4,561.6 L79.4,564.1 L79.8,564.1 L79.8,566.6 L80.1,566.6 L80.1,569.1 L80.5,569.1 L80.5,571.6 L80.7,571.6 L81.0,571.6 L81.0,574.2 L81.7,574.2 L81.7,576.7 L82.4,576.7 L82.4,579.3 L82.7,579.3 L83.4,579.3 L83.4,581.2 L84.7,581.2 L84.7,583.2 L85.4,583.2 L86.5,592.5 L86.7,592.5 L86.7,595.0 L87.1,595.0 L87.1,597.5 L87.5,597.5 L87.5,600.0 L87.9,600.0 L87.9,602.5 L88.1,602.5 L89.2,610.0 L90.1,610.0 L90.1,612.0 L91.8,612.0 L91.8,614.0 L92.7,614.0 L93.8,619.6 L94.8,629.2 L98.2,629.2 L98.2,631.2 L101.5,631.2 L103.5,631.2 L103.5,633.0 L105.4,633.0 L106.8,633.0 L106.8,636.0 L108.3,636.0 L120.8,636.0 L121.5,636.0 L121.5,638.4 L123.0,638.4 L123.0,640.8 L123.7,640.8 L124.6,643.7 L141.0,643.7 L141.0,645.6 L148.7,645.6 L148.7,648.0 L158.3,648.0 L158.8,648.0 L158.8,650.4 L159.7,650.4 L159.7,652.8 L160.2,652.8 L192.5,652.8 L192.5,655.5 L222.5,655.5 L222.5,658.8 L243.8,658.8 L243.8,662.8 L319.7,662.8 L319.7,670.7 L423.3,670.7" fill="none" stroke="#c00c1c" stroke-width="2.8" stroke-linejoin="miter"/>
<path d="M68.0,405.8 L68.1,405.8 L68.1,408.2 L68.2,408.2 L68.2,410.7 L68.3,410.7 L68.3,413.1 L68.4,413.1 L68.4,415.6 L68.5,415.6 L68.5,418.0 L68.6,418.0 L68.6,420.5 L68.7,420.5 L68.7,422.9 L68.8,422.9 L68.8,425.3 L68.9,425.3 L68.9,427.8 L69.0,427.8 L69.0,430.2 L69.1,430.2 L69.1,432.7 L69.2,432.7 L69.2,435.1 L69.3,435.1 L69.3,437.6 L69.4,437.6 L69.4,440.0 L69.5,440.0 L70.2,486.0 L70.4,486.0 L70.4,488.2 L70.7,488.2 L70.7,490.5 L71.0,490.5 L71.0,492.8 L71.2,492.8 L71.2,495.0 L71.4,495.0 L71.5,495.0 L71.5,497.3 L71.6,497.3 L71.6,499.6 L71.8,499.6 L71.8,501.9 L71.9,501.9 L71.9,504.2 L72.1,504.2 L72.1,506.5 L72.2,506.5 L72.2,508.8 L72.4,508.8 L72.4,511.1 L72.5,511.1 L72.5,513.4 L72.7,513.4 L72.7,515.7 L72.8,515.7 L72.8,518.0 L72.9,518.0 L73.0,518.0 L73.0,520.2 L73.2,520.2 L73.2,522.5 L73.5,522.5 L73.5,524.7 L73.7,524.7 L73.7,526.9 L73.9,526.9 L73.9,529.1 L74.2,529.1 L74.2,531.4 L74.4,531.4 L74.4,533.6 L74.5,533.6 L74.6,533.6 L74.6,535.9 L74.8,535.9 L74.8,538.3 L75.1,538.3 L75.1,540.6 L75.3,540.6 L75.3,543.0 L75.5,543.0 L75.5,545.3 L75.8,545.3 L75.8,547.7 L76.0,547.7 L76.0,550.0 L76.1,550.0 L76.2,550.0 L76.2,552.6 L76.4,552.6 L76.4,555.1 L76.6,555.1 L76.6,557.7 L76.8,557.7 L76.8,560.3 L77.0,560.3 L77.0,562.8 L77.2,562.8 L77.2,565.4 L77.3,565.4 L77.5,565.4 L77.5,567.7 L77.9,567.7 L77.9,570.0 L78.2,570.0 L78.2,572.4 L78.6,572.4 L78.6,574.7 L79.0,574.7 L79.0,577.0 L79.2,577.0 L79.4,577.0 L79.4,579.3 L79.8,579.3 L79.8,581.6 L80.2,581.6 L80.2,584.0 L80.5,584.0 L80.5,586.3 L80.9,586.3 L80.9,588.6 L81.1,588.6 L81.3,588.6 L81.3,590.9 L81.8,590.9 L81.8,593.2 L82.2,593.2 L82.2,595.6 L82.7,595.6 L82.7,597.9 L83.2,597.9 L83.2,600.2 L83.4,600.2 L83.6,600.2 L83.6,602.7 L84.0,602.7 L84.0,605.1 L84.4,605.1 L84.4,607.5 L84.8,607.5 L84.8,610.0 L85.0,610.0 L86.0,611.2 L88.4,611.2 L88.4,613.0 L90.8,613.0 L91.2,613.0 L91.2,615.6 L91.9,615.6 L91.9,618.2 L92.7,618.2 L92.7,620.9 L93.4,620.9 L93.4,623.5 L93.8,623.5 L95.0,623.5 L95.0,625.4 L97.5,625.4 L97.5,627.3 L98.7,627.3 L99.0,627.3 L99.0,629.7 L99.8,629.7 L99.8,632.1 L100.5,632.1 L100.5,634.6 L101.2,634.6 L101.2,637.0 L101.5,637.0 L101.8,637.0 L101.8,639.5 L102.5,639.5 L102.5,642.1 L103.2,642.1 L103.2,644.6 L103.5,644.6 L111.2,644.6 L111.2,648.5 L121.7,648.5 L121.7,652.7 L135.2,652.7 L135.2,657.0 L149.6,657.0 L149.6,661.0 L151.5,661.0 L151.5,665.8 L170.8,665.8 L170.8,669.6 L212.0,669.6 L212.0,675.3 L332.8,675.3" fill="none" stroke="#3a641e" stroke-width="2.8" stroke-linejoin="miter"/>
<path d="M133.7,541.6v8M137.5,541.6v8M150.4,543.9v8M169.2,546.8v8M173.0,546.8v8M176.0,546.8v8M179.8,546.8v8M183.7,546.8v8M194.2,550.2v8M196.0,550.2v8M201.0,550.2v8M211.5,550.2v8M227.0,550.2v8M228.8,550.2v8M234.6,550.2v8M236.5,550.2v8M238.5,550.2v8M251.5,550.2v8M253.8,550.2v8M265.4,550.2v8M280.6,550.2v8M287.0,550.2v8M294.5,550.2v8M300.0,550.2v8M322.0,550.2v8M332.3,550.2v8M350.8,550.2v8M357.7,550.2v8M362.3,550.2v8M366.9,550.2v8M373.8,550.2v8M377.5,550.2v8M383.0,550.2v8M390.0,550.2v8M394.6,550.2v8M408.5,561.2v8M415.6,561.2v8M422.3,561.2v8M424.6,561.2v8M441.5,561.2v8M449.2,561.2v8M453.0,561.2v8M473.8,561.2v8" stroke="#000000" stroke-width="1.1" fill="none"/>
<path d="M110.0,575.0v8M137.9,589.7v8M172.1,593.5v8M175.0,593.5v8M177.0,593.5v8M181.7,593.5v8M195.2,597.3v8M197.1,597.3v8M219.2,599.8v8M224.0,599.8v8M226.9,599.8v8M228.8,599.8v8M231.7,599.8v8M233.7,599.8v8M238.5,602.3v8M246.2,602.3v8M248.0,602.3v8M259.6,613.4v8M274.2,613.4v8M278.0,613.4v8M281.5,613.4v8M287.3,613.4v8M288.5,613.4v8M297.7,616.8v8M305.8,620.5v8M309.2,620.5v8M311.5,620.5v8M323.0,620.5v8M328.8,620.5v8M330.5,620.5v8M360.0,620.5v8M362.0,620.5v8M371.2,620.5v8M386.2,620.5v8M395.0,620.5v8M400.0,620.5v8M402.0,620.5v8M406.2,620.5v8M418.0,620.5v8M420.0,620.5v8M435.0,620.5v8M437.0,620.5v8M452.5,620.5v8M469.5,620.5v8" stroke="#121236" stroke-width="1.1" fill="none"/>
<path d="M104.4,628.5v8M145.8,641.6v8M158.3,644.0v8M176.5,648.8v8M198.8,651.5v8M205.0,651.5v8M206.2,651.5v8M223.8,654.8v8M236.2,654.8v8M238.8,654.8v8M255.0,658.8v8M255.5,658.8v8M273.8,658.8v8M287.0,658.8v8M295.0,658.8v8M332.3,666.7v8M336.3,666.7v8M350.6,666.7v8M362.0,666.7v8M405.5,666.7v8M423.3,666.7v8" stroke="#2a1010" stroke-width="1.1" fill="none"/>
<path d="M175.6,665.6v8M177.5,665.6v8M192.0,665.6v8M285.0,671.3v8M287.5,671.3v8M290.0,671.3v8M310.2,671.3v8M327.0,671.3v8M330.0,671.3v8M332.3,671.3v8" stroke="#223518" stroke-width="1.1" fill="none"/>
<line x1="328.8" y1="412.0" x2="382.8" y2="412.0" stroke="#000000" stroke-width="2.8"/>
<text x="387.9" y="415.9" class="lg" fill="#000000">HCT-CI 0</text>
<text x="460.0" y="415.9" class="lg" fill="#000000">(<tspan font-style="italic">n</tspan>=</text>
<text x="506.0" y="415.9" class="lg" fill="#000000" text-anchor="end">124)</text>
<line x1="328.8" y1="426.2" x2="382.8" y2="426.2" stroke="#0a0ab2" stroke-width="2.8"/>
<text x="387.9" y="430.1" class="lg" fill="#1515b0">HCT-CI 1–2</text>
<text x="460.0" y="430.1" class="lg" fill="#1515b0">(<tspan font-style="italic">n</tspan>=</text>
<text x="506.0" y="430.1" class="lg" fill="#1515b0" text-anchor="end">170)</text>
<line x1="328.8" y1="440.5" x2="382.8" y2="440.5" stroke="#c00c1c" stroke-width="2.8"/>
<text x="387.9" y="444.4" class="lg" fill="#a8101c">HCT-CI 3–4</text>
<text x="460.0" y="444.4" class="lg" fill="#a8101c">(<tspan font-style="italic">n</tspan>=</text>
<text x="506.0" y="444.4" class="lg" fill="#a8101c" text-anchor="end">141)</text>
<line x1="328.8" y1="454.8" x2="382.8" y2="454.8" stroke="#3a641e" stroke-width="2.8"/>
<text x="387.9" y="458.6" class="lg" fill="#3a6020">HCT-CI 5+</text>
<text x="460.0" y="458.6" class="lg" fill="#3a6020">(<tspan font-style="italic">n</tspan>=</text>
<text x="506.0" y="458.6" class="lg" fill="#3a6020" text-anchor="end">76)</text>
<line x1="333.8" y1="465.7" x2="333.8" y2="473.7" stroke="#555" stroke-width="1.4"/>
<line x1="355.8" y1="465.7" x2="355.8" y2="473.7" stroke="#555" stroke-width="1.4"/>
<line x1="377.40000000000003" y1="465.7" x2="377.40000000000003" y2="473.7" stroke="#555" stroke-width="1.4"/>
<text x="388.09999999999997" y="474.7" class="lg" fill="#000">Censor</text>
<text x="292" y="775" text-anchor="middle" class="at">Years after GVHD Onset</text>
<text transform="translate(18.7,561.7) rotate(-90)" text-anchor="middle" class="at">Probability of Survival</text>
</svg>
</body></html>
